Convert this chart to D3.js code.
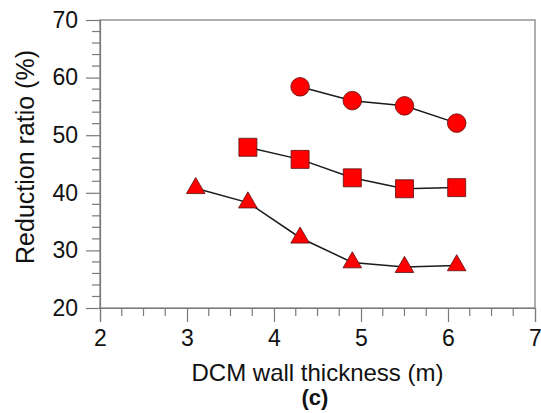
<!DOCTYPE html>
<html>
<head>
<meta charset="utf-8">
<script src="https://cdn.jsdelivr.net/npm/d3@7"></script>
<style>
    body { margin: 0; background: #fff; }
    svg text { font-family: "Liberation Sans", Arial, sans-serif; fill: #111; }
</style>
</head>
<body>
<svg width="541" height="413"></svg>
<script>
// wall thickness (m) and reduction ratio (%) for each series
const circleX = [4.3, 4.9, 5.5, 6.1]
const circleY = [58.4, 56.0, 55.1, 52.1]
const squareX = [3.7, 4.3, 4.9, 5.5, 6.1]
const squareY = [47.9, 45.8, 42.6, 40.7, 40.9]
const triangleX = [3.1, 3.7, 4.3, 4.9, 5.5, 6.1]
const triangleY = [40.8, 38.3, 32.2, 27.9, 27.1, 27.4]

const xTicks = [2, 3, 4, 5, 6, 7]
const yTicks = [20, 30, 40, 50, 60, 70]

const margin = {left: 100, top: 20, right: 6, bottom: 105}
const width = 541 - margin.left - margin.right
const height = 413 - margin.top - margin.bottom
const axisColor = "#7a7a7a"

const svg = d3.select("svg")
const g = svg.append("g").attr("transform", `translate(${margin.left},${margin.top})`)

const x = d3.scaleLinear().domain([2, 7]).range([0, width])
const y = d3.scaleLinear().domain([20, 70]).range([height, 0])

// frame (top & right)
g.append("rect")
    .attr("width", width).attr("height", height)
    .attr("fill", "none").attr("stroke", axisColor).attr("stroke-width", 1.2)

// minor ticks
const xMinor = d3.range(2, 7.001, 0.25).filter(v => Math.abs(v - Math.round(v)) > 1e-6)
const yMinor = d3.range(20, 70.001, 2).filter(v => v % 10 !== 0)

const xAxis = g.append("g").attr("transform", `translate(0,${height})`)
xAxis.call(d3.axisBottom(x).tickValues(xTicks).tickSize(14).tickPadding(8).tickFormat(d3.format("d")))
xAxis.selectAll(".minor")
    .data(xMinor).enter().append("line")
    .attr("class", "minor")
    .attr("x1", d => x(d)).attr("x2", d => x(d))
    .attr("y1", 0).attr("y2", 8)

const yAxis = g.append("g")
yAxis.call(d3.axisLeft(y).tickValues(yTicks).tickSize(14).tickPadding(8).tickFormat(d3.format("d")))
yAxis.selectAll(".minor")
    .data(yMinor).enter().append("line")
    .attr("class", "minor")
    .attr("y1", d => y(d)).attr("y2", d => y(d))
    .attr("x1", 0).attr("x2", -8)

for (const ax of [xAxis, yAxis]) {
    ax.select(".domain").attr("stroke", axisColor).attr("stroke-width", 1.2)
    ax.selectAll("line").attr("stroke", axisColor).attr("stroke-width", 1.2)
    ax.selectAll("text").attr("font-size", 23).attr("fill", "#111")
}

// axis titles
svg.append("text")
    .attr("x", margin.left + width / 2).attr("y", 381)
    .attr("text-anchor", "middle").attr("font-size", 24)
    .text("DCM wall thickness (m)")

svg.append("text")
    .attr("transform", "translate(34,157) rotate(-90)")
    .attr("text-anchor", "middle").attr("font-size", 25)
    .text("Reduction ratio (%)")

svg.append("text")
    .attr("x", 315).attr("y", 405)
    .attr("text-anchor", "middle").attr("font-size", 22).attr("font-weight", "bold")
    .text("(c)")

// series
const series = [
    {xs: circleX, ys: circleY, symbol: d3.symbolCircle, size: Math.PI * 9.3 * 9.3},
    {xs: squareX, ys: squareY, symbol: d3.symbolSquare, size: 18 * 18},
    {xs: triangleX, ys: triangleY, symbol: d3.symbolTriangle, size: 150},
]

const line = d3.line().x(d => x(d[0])).y(d => y(d[1]))

for (const s of series) {
    const pts = s.xs.map((v, i) => [v, s.ys[i]])
    g.append("path")
        .datum(pts)
        .attr("d", line)
        .attr("fill", "none").attr("stroke", "#1a1a1a").attr("stroke-width", 1.5)
    g.selectAll(null)
        .data(pts).enter().append("path")
        .attr("transform", d => `translate(${x(d[0])},${y(d[1])})`)
        .attr("d", d3.symbol().type(s.symbol).size(s.size))
        .attr("fill", "#ff0000").attr("stroke", "#5a1010").attr("stroke-width", 0.8)
}
</script>
</body>
</html>
